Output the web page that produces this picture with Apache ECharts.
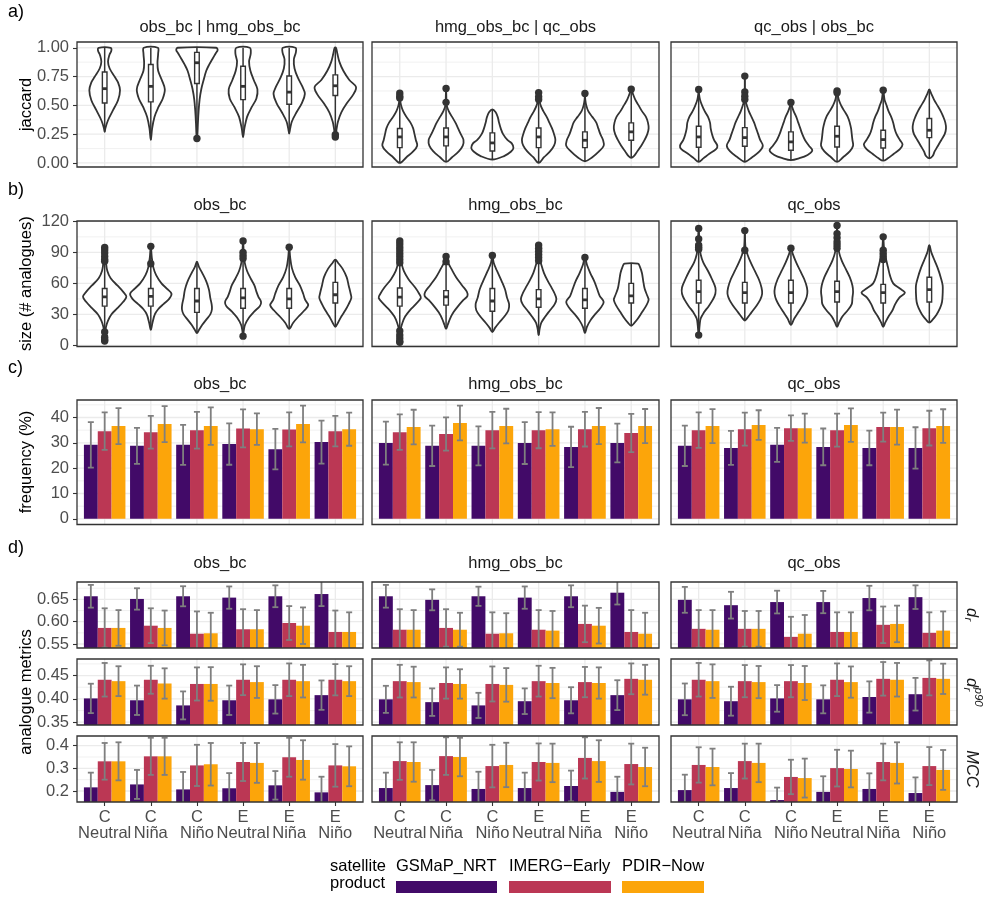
<!DOCTYPE html>
<html>
<head>
<meta charset="utf-8">
<script src="https://cdn.jsdelivr.net/npm/echarts@6/dist/echarts.min.js"></script>
<style>
  html, body { margin: 0; padding: 0; background: #ffffff; }
  #chart { width: 992px; height: 903px; }
</style>
</head>
<body>
<div id="chart"></div>
<script>
// ---------------------------------------------------------------------------
// Categories, products and facet names
// ---------------------------------------------------------------------------
const categories = ['C\nNeutral', 'C\nNiña', 'C\nNiño', 'E\nNeutral', 'E\nNiña', 'E\nNiño'];
const products = ['GSMaP_NRT', 'IMERG\u2212Early', 'PDIR\u2212Now'];
const productColors = ['#420A68', '#BB3754', '#FCA50A'];
const jaccardFacets = ['obs_bc | hmg_obs_bc', 'hmg_obs_bc | qc_obs', 'qc_obs | obs_bc'];
const datasetFacets = ['obs_bc', 'hmg_obs_bc', 'qc_obs'];

// ---------------------------------------------------------------------------
// a) jaccard: violin outlines as [value, density] pairs, boxes [q1, median, q3], outliers
// ---------------------------------------------------------------------------
const jaccProfile_obs_hmg = [
  [[0.27,0],[0.3,2],[0.371,10],[0.458,25],[0.545,40],[0.632,46],[0.7,40],[0.748,30],[0.82,15],[0.878,10],[0.936,14],[0.975,20],[1.0,18]],
  [[0.2,0],[0.3,4],[0.4,11],[0.48,22],[0.56,36],[0.64,42],[0.72,33],[0.8,22],[0.87,20],[0.95,22],[1.0,21]],
  [[0.21,0],[0.25,1.5],[0.35,3],[0.45,5],[0.55,8],[0.64,13],[0.72,20],[0.8,28],[0.85,36],[0.9,46],[0.95,56],[0.98,62],[1.0,58]],
  [[0.225,0],[0.3,4],[0.4,12],[0.48,25],[0.56,40],[0.64,43],[0.72,32],[0.8,22],[0.88,18],[0.95,23],[1.0,20]],
  [[0.255,0],[0.3,3],[0.36,8],[0.44,22],[0.52,38],[0.6,47],[0.66,40],[0.74,26],[0.82,16],[0.9,14],[0.96,20],[1.0,19]],
  [[0.22,0],[0.25,2],[0.3,4],[0.36,8],[0.44,18],[0.52,35],[0.6,55],[0.66,62],[0.72,42],[0.8,24],[0.88,12],[0.95,6],[1.0,2]]
];
const jaccBox_obs_hmg = [[0.52,0.645,0.79],[0.53,0.665,0.855],[0.69,0.87,0.96],[0.55,0.665,0.84],[0.51,0.615,0.755],[0.585,0.67,0.765]];
const jaccOut_obs_hmg = [[],[],[0.212],[],[],[0.245,0.225]];

const jaccProfile_hmg_qc = [
  [[0.0,0],[0.05,20],[0.1,40],[0.15,52],[0.2,48],[0.25,44],[0.3,40],[0.35,32],[0.4,20],[0.45,10],[0.5,4],[0.55,1],[0.605,0]],
  [[0.01,0],[0.05,18],[0.1,38],[0.15,50],[0.2,52],[0.25,44],[0.3,36],[0.35,28],[0.4,18],[0.45,8],[0.5,2],[0.55,1],[0.646,0]],
  [[0.03,0],[0.06,35],[0.1,56],[0.13,63],[0.17,58],[0.2,45],[0.25,32],[0.3,25],[0.35,20],[0.4,16],[0.44,10],[0.465,0]],
  [[0.0,0],[0.05,16],[0.1,34],[0.15,46],[0.2,50],[0.25,46],[0.3,40],[0.35,32],[0.4,24],[0.45,14],[0.5,6],[0.55,2],[0.609,0]],
  [[0.015,0],[0.05,22],[0.1,42],[0.15,56],[0.2,54],[0.25,46],[0.3,40],[0.35,34],[0.4,22],[0.45,10],[0.5,4],[0.55,1],[0.603,0]],
  [[0.045,0],[0.06,8],[0.1,18],[0.15,30],[0.2,40],[0.25,48],[0.3,52],[0.35,50],[0.4,44],[0.45,32],[0.5,22],[0.55,12],[0.6,5],[0.64,0]]
];
const jaccBox_hmg_qc = [[0.133,0.226,0.299],[0.148,0.226,0.304],[0.104,0.174,0.261],[0.133,0.226,0.304],[0.133,0.197,0.27],[0.197,0.27,0.348]];
const jaccOut_hmg_qc = [[0.605,0.58,0.565],[0.646,0.526],[],[0.609,0.574,0.55],[0.603],[0.64]];

const jaccProfile_qc_obs = [
  [[0.01,0],[0.04,14],[0.08,32],[0.12,52],[0.15,56],[0.2,46],[0.25,40],[0.3,36],[0.35,34],[0.4,28],[0.45,18],[0.5,10],[0.55,4],[0.6,1],[0.638,0]],
  [[0.01,0],[0.05,22],[0.1,44],[0.15,54],[0.2,46],[0.25,40],[0.3,34],[0.35,28],[0.4,20],[0.45,12],[0.5,6],[0.55,1],[0.754,0]],
  [[0.025,0],[0.04,24],[0.07,50],[0.11,64],[0.15,54],[0.2,42],[0.25,34],[0.3,28],[0.35,22],[0.4,16],[0.45,8],[0.5,2],[0.525,0]],
  [[0.01,0],[0.05,18],[0.1,38],[0.15,48],[0.2,46],[0.25,44],[0.3,42],[0.35,38],[0.4,32],[0.45,22],[0.5,12],[0.55,5],[0.626,0]],
  [[0.02,0],[0.04,14],[0.08,32],[0.12,50],[0.16,58],[0.2,50],[0.25,40],[0.3,34],[0.35,30],[0.4,24],[0.45,16],[0.5,10],[0.55,4],[0.632,0]],
  [[0.04,0],[0.06,10],[0.1,16],[0.15,26],[0.2,36],[0.25,46],[0.3,50],[0.35,48],[0.4,42],[0.45,34],[0.5,24],[0.55,14],[0.6,6],[0.638,0]]
];
const jaccBox_qc_obs = [[0.136,0.226,0.319],[0.145,0.22,0.307],[0.11,0.183,0.27],[0.139,0.232,0.319],[0.13,0.203,0.284],[0.22,0.284,0.386]];
const jaccOut_qc_obs = [[0.638],[0.754,0.617,0.58,0.55],[0.525],[0.626,0.609],[0.632],[]];

// ---------------------------------------------------------------------------
// b) size (# analogues)
// ---------------------------------------------------------------------------
const sizeProfile_obs_bc = [
  [[4,0],[12,2],[18,4],[24,10],[30,20],[36,38],[42,55],[47,65],[52,55],[58,38],[65,18],[72,8],[80,4],[90,2],[95,0]],
  [[15,0],[22,5],[30,12],[35,22],[40,38],[45,55],[50,62],[55,48],[60,32],[68,16],[75,8],[85,3],[96,0]],
  [[12,0],[15,6],[20,16],[25,28],[30,40],[35,45],[40,44],[46,40],[54,36],[62,28],[70,16],[76,6],[81,0]],
  [[9,0],[14,2],[20,6],[27,18],[33,34],[38,50],[42,54],[47,46],[52,40],[58,34],[64,24],[72,12],[80,5],[90,2],[101,0]],
  [[16,0],[22,12],[28,28],[34,46],[39,57],[44,48],[50,42],[58,32],[66,18],[75,8],[85,3],[95,0]],
  [[18,0],[22,8],[28,18],[34,30],[40,40],[46,48],[50,46],[58,40],[66,34],[74,22],[80,8],[83,0]]
];
const sizeBox_obs_bc = [[38,47,55],[38,47.5,55],[32,43,55],[36,46,55],[36,45,55],[41,49,61]];
const sizeOut_obs_bc = [[94.8,92.2,89.3,86,83,81.3,13,8,5.6,4.3],[95.8,79],[],[101,90,87,84,9],[95],[]];

const sizeProfile_hmg_obs_bc = [
  [[3,0],[16,3],[22,8],[28,16],[34,30],[40,48],[46,63],[50,58],[56,46],[64,26],[72,12],[80,5],[88,2],[101,0]],
  [[16,0],[20,5],[26,12],[32,22],[38,36],[44,52],[48,64],[52,62],[58,48],[66,30],[74,16],[80,6],[86,0]],
  [[13,0],[17,8],[22,20],[28,36],[34,48],[40,50],[46,44],[54,38],[62,28],[72,14],[80,4],[87,0]],
  [[10,0],[16,3],[22,8],[28,20],[34,34],[40,48],[45,53],[50,48],[55,40],[62,28],[70,16],[78,8],[85,3],[97,0]],
  [[12,0],[18,6],[24,16],[30,30],[36,46],[42,56],[48,44],[55,36],[62,28],[70,16],[78,6],[85,0]],
  [[19,0],[22,10],[26,20],[32,32],[38,44],[44,52],[48,48],[55,40],[62,36],[70,32],[76,26],[79,20]]
];
const sizeBox_hmg_obs_bc = [[38,46.7,55.6],[39,47,53],[33,43,55],[37,45,54],[36,44,55],[41,48,60]];
const sizeOut_hmg_obs_bc = [[101,98,95,92,89,86,83,80,14,10,7,4,3],[86,81],[87],[97,94,91,88,85,82],[85],[]];

const sizeProfile_qc_obs = [
  [[10,0],[20,3],[26,6],[32,16],[38,30],[44,42],[50,50],[56,50],[64,40],[72,28],[80,14],[88,6],[95,3],[113,0]],
  [[24,0],[26,6],[32,20],[38,34],[44,46],[50,52],[56,50],[64,42],[72,30],[80,18],[88,8],[95,2],[111,0]],
  [[20,0],[26,10],[32,22],[38,34],[44,44],[50,49],[56,48],[64,40],[72,28],[80,16],[88,6],[94,0]],
  [[18,0],[22,6],[28,16],[34,32],[40,44],[46,46],[52,48],[58,46],[66,38],[74,26],[82,14],[90,6],[100,2],[116,0]],
  [[18,0],[22,6],[28,16],[34,28],[40,36],[46,48],[51,65],[55,50],[60,30],[68,20],[76,14],[84,8],[92,3],[105,0]],
  [[22,0],[25,10],[30,22],[36,32],[42,38],[50,40],[58,40],[66,34],[74,26],[82,16],[90,6],[97,0]]
];
const sizeBox_qc_obs = [[41,52,63],[41,51,61],[41,51,63],[42,52,62],[41,51,59],[42,54,66]];
const sizeOut_qc_obs = [[113,103,97,95,93,10],[111,92],[94],[116,108,104,100,97,94],[105,92,89,86,83],[]];

// ---------------------------------------------------------------------------
// c) frequency (%): mean and sd, one row per product
// ---------------------------------------------------------------------------
const freqMean_obs_bc = [[29.2,28.8,29.2,29.5,27.5,30.3],[34.6,34.2,35.0,35.7,35.3,34.6],[36.6,37.4,36.6,35.4,37.4,35.4]];
const freqSd_obs_bc   = [[8.95,7.1,7.9,8.15,8.0,8.5],[7.4,6.45,7.25,7.5,6.7,6.0],[7.1,7.1,7.4,6.2,7.25,6.55]];
const freqMean_hmg_obs_bc = [[29.9,28.8,28.8,29.9,28.4,29.9],[34.2,33.5,35.0,35.0,35.4,33.9],[36.2,37.8,36.6,35.4,36.6,36.6]];
const freqSd_hmg_obs_bc   = [[8.5,7.95,7.7,8.25,7.95,7.65],[7.0,6.55,7.2,7.15,6.85,7.55],[6.85,6.85,6.85,6.6,7.15,6.75]];
const freqMean_qc_obs = [[28.8,28.0,29.2,28.4,28.0,28.0],[35.0,35.4,35.8,35.0,36.2,35.8],[36.6,37.0,35.8,37.0,36.2,36.6]];
const freqSd_qc_obs   = [[7.95,6.7,6.7,7.25,6.85,8.15],[7.0,6.5,5.0,6.5,5.75,6.85],[6.7,5.85,5.75,6.6,6.9,6.65]];

// ---------------------------------------------------------------------------
// d) analogue metrics: d_r, d_r^p90, MCC (mean and sd per product)
// ---------------------------------------------------------------------------
const drMean_obs_bc = [[0.657,0.651,0.657,0.654,0.657,0.662],[0.586,0.591,0.573,0.583,0.597,0.577],[0.586,0.586,0.574,0.583,0.591,0.577]];
const drSd_obs_bc   = [[0.0255,0.024,0.0225,0.025,0.0245,0.027],[0.044,0.039,0.050,0.045,0.038,0.048],[0.040,0.039,0.046,0.043,0.041,0.044]];
const drMean_hmg_obs_bc = [[0.657,0.649,0.657,0.654,0.657,0.665],[0.582,0.586,0.573,0.582,0.595,0.577],[0.582,0.582,0.574,0.580,0.591,0.573]];
const drSd_hmg_obs_bc   = [[0.0255,0.0235,0.0215,0.025,0.0245,0.0265],[0.046,0.042,0.048,0.044,0.041,0.049],[0.044,0.038,0.045,0.044,0.040,0.047]];
const drMean_qc_obs = [[0.649,0.637,0.644,0.644,0.653,0.655],[0.584,0.584,0.566,0.577,0.593,0.575],[0.582,0.584,0.573,0.577,0.595,0.580]];
const drSd_qc_obs   = [[0.029,0.030,0.0255,0.025,0.0275,0.0265],[0.042,0.040,0.045,0.044,0.041,0.046],[0.044,0.040,0.042,0.044,0.041,0.043]];

const dr90Mean_obs_bc = [[0.401,0.397,0.386,0.397,0.399,0.408],[0.441,0.441,0.432,0.441,0.441,0.441],[0.438,0.433,0.432,0.436,0.438,0.438]];
const dr90Sd_obs_bc   = [[0.0315,0.0315,0.030,0.0315,0.0305,0.0315],[0.036,0.030,0.0355,0.033,0.035,0.0335],[0.032,0.0325,0.036,0.034,0.035,0.032]];
const dr90Mean_hmg_obs_bc = [[0.399,0.393,0.386,0.395,0.397,0.408],[0.438,0.434,0.432,0.438,0.436,0.443],[0.436,0.432,0.430,0.434,0.434,0.441]];
const dr90Sd_hmg_obs_bc   = [[0.029,0.0295,0.027,0.0275,0.028,0.032],[0.035,0.0335,0.0375,0.033,0.0325,0.033],[0.033,0.0315,0.036,0.0325,0.0335,0.032]];
const dr90Mean_qc_obs = [[0.399,0.395,0.401,0.399,0.404,0.410],[0.441,0.438,0.438,0.441,0.443,0.445],[0.438,0.436,0.434,0.436,0.441,0.443]];
const dr90Sd_qc_obs   = [[0.034,0.031,0.0285,0.030,0.0335,0.035],[0.036,0.0345,0.0345,0.035,0.036,0.0375],[0.036,0.0345,0.0365,0.0335,0.036,0.0325]];

const mccMean_obs_bc = [[0.216,0.229,0.207,0.212,0.225,0.194],[0.331,0.353,0.313,0.328,0.349,0.313],[0.331,0.353,0.318,0.324,0.337,0.309]];
const mccSd_obs_bc   = [[0.065,0.064,0.077,0.067,0.063,0.069],[0.081,0.082,0.091,0.084,0.086,0.094],[0.084,0.082,0.094,0.088,0.087,0.088]];
const mccMean_hmg_obs_bc = [[0.213,0.226,0.209,0.213,0.222,0.196],[0.332,0.354,0.310,0.328,0.346,0.319],[0.328,0.350,0.315,0.324,0.332,0.306]];
const mccSd_hmg_obs_bc   = [[0.068,0.067,0.076,0.068,0.068,0.067],[0.083,0.083,0.094,0.082,0.091,0.090],[0.087,0.085,0.098,0.085,0.092,0.085]];
const mccMean_qc_obs = [[0.204,0.213,0.160,0.196,0.209,0.191],[0.315,0.332,0.262,0.301,0.328,0.310],[0.306,0.324,0.257,0.297,0.324,0.293]];
const mccSd_qc_obs   = [[0.068,0.066,0.055,0.069,0.069,0.069],[0.078,0.077,0.076,0.081,0.081,0.084],[0.081,0.085,0.086,0.081,0.091,0.088]];

// Tick values
const jaccTicks = [0, 0.25, 0.5, 0.75, 1.0];
const sizeTicks = [0, 30, 60, 90, 120];
const freqTicks = [0, 10, 20, 30, 40];
const drTicks = [0.55, 0.60, 0.65];
const dr90Ticks = [0.35, 0.40, 0.45];
const mccTicks = [0.2, 0.3, 0.4];

// ---------------------------------------------------------------------------
// Layout and styling
// ---------------------------------------------------------------------------
const FONT = '"Liberation Sans", Arial, Helvetica, sans-serif';
const FS = 16.5;
const X_MIN = 0.4, X_MAX = 6.6;          // discrete axis with 0.6 expansion each side
const DODGE = 0.3;                        // width of each bar inside a group
const CAP = 0.065;                        // half width of error bar caps
const BOX_HALF = 0.05;                    // half width of the boxplot
const DENSITY_TO_X = 1 / 138.3;           // violin half width per density unit
const GRID_COLOR = '#EBEBEB';
const INK = '#333333';

const columns = [{ left: 77, width: 286 }, { left: 372, width: 287 }, { left: 671, width: 286 }];

const rows = [
  { key: 'a', top: 42, height: 125, min: -0.035, max: 1.05, majors: jaccTicks, minors: [0.125,0.375,0.625,0.875], fmt: v => v.toFixed(2) },
  { key: 'b', top: 221, height: 125.5, min: -1, max: 120.3, majors: sizeTicks, minors: [15,45,75,105], fmt: v => String(v) },
  { key: 'c', top: 400, height: 124.5, min: -2.23, max: 46.9, majors: freqTicks, minors: [5,15,25,35,45], fmt: v => String(v) },
  { key: 'd1', top: 582, height: 66, min: 0.541, max: 0.689, majors: drTicks, minors: [0.575,0.625,0.675], fmt: v => v.toFixed(2) },
  { key: 'd2', top: 659, height: 66, min: 0.344, max: 0.4855, majors: dr90Ticks, minors: [0.375,0.425,0.475], fmt: v => v.toFixed(2) },
  { key: 'd3', top: 736, height: 66, min: 0.1514, max: 0.4428, majors: mccTicks, minors: [0.25,0.35], fmt: v => v.toFixed(1) }
];

const violinData = {
  a: [[jaccProfile_obs_hmg, jaccBox_obs_hmg, jaccOut_obs_hmg],
      [jaccProfile_hmg_qc, jaccBox_hmg_qc, jaccOut_hmg_qc],
      [jaccProfile_qc_obs, jaccBox_qc_obs, jaccOut_qc_obs]],
  b: [[sizeProfile_obs_bc, sizeBox_obs_bc, sizeOut_obs_bc],
      [sizeProfile_hmg_obs_bc, sizeBox_hmg_obs_bc, sizeOut_hmg_obs_bc],
      [sizeProfile_qc_obs, sizeBox_qc_obs, sizeOut_qc_obs]]
};
const barData = {
  c:  [[freqMean_obs_bc, freqSd_obs_bc], [freqMean_hmg_obs_bc, freqSd_hmg_obs_bc], [freqMean_qc_obs, freqSd_qc_obs]],
  d1: [[drMean_obs_bc, drSd_obs_bc], [drMean_hmg_obs_bc, drSd_hmg_obs_bc], [drMean_qc_obs, drSd_qc_obs]],
  d2: [[dr90Mean_obs_bc, dr90Sd_obs_bc], [dr90Mean_hmg_obs_bc, dr90Sd_hmg_obs_bc], [dr90Mean_qc_obs, dr90Sd_qc_obs]],
  d3: [[mccMean_obs_bc, mccSd_obs_bc], [mccMean_hmg_obs_bc, mccSd_hmg_obs_bc], [mccMean_qc_obs, mccSd_qc_obs]]
};

const grids = [], xAxes = [], yAxes = [], series = [], graphics = [];
const catPositions = categories.map((c, i) => i + 1);

function gridlineSeries(g, row) {
  const data = [];
  row.minors.forEach(v => data.push([X_MIN, v, 1]));
  row.majors.forEach(v => data.push([X_MIN, v, 0]));
  catPositions.forEach(x => data.push([x, row.min, 2]));
  return {
    type: 'custom', xAxisIndex: g, yAxisIndex: g, silent: true, z: 1, clip: true,
    encode: { x: 0, y: 1 }, data,
    renderItem(params, api) {
      const kind = api.value(2);
      let p1, p2;
      if (kind === 2) {
        p1 = api.coord([api.value(0), row.min]); p2 = api.coord([api.value(0), row.max]);
      } else {
        p1 = api.coord([X_MIN, api.value(1)]); p2 = api.coord([X_MAX, api.value(1)]);
      }
      return { type: 'line', shape: { x1: p1[0], y1: p1[1], x2: p2[0], y2: p2[1] },
               style: { stroke: GRID_COLOR, lineWidth: kind === 1 ? 0.7 : 1.3 } };
    }
  };
}

function violinSeries(g, profiles, boxes, outliers) {
  return {
    type: 'custom', xAxisIndex: g, yAxisIndex: g, silent: true, z: 3, clip: true,
    encode: { x: 0, y: 1 },
    data: boxes.map((b, i) => [i + 1, b[1]]),
    renderItem(params, api) {
      const i = params.dataIndex, x = api.value(0);
      const prof = profiles[i], box = boxes[i], outs = outliers[i];
      const pts = [];
      prof.forEach(([v, d]) => pts.push(api.coord([x + d * DENSITY_TO_X, v])));
      for (let k = prof.length - 1; k >= 0; k--) {
        const [v, d] = prof[k];
        if (d === 0 && (k === 0 || k === prof.length - 1)) continue;
        pts.push(api.coord([x - d * DENSITY_TO_X, v]));
      }
      const lo = Math.min(prof[0][0], ...outs);
      const hi = Math.max(prof[prof.length - 1][0], ...outs);
      const wTop = api.coord([x, hi]), wBot = api.coord([x, lo]);
      const bTL = api.coord([x - BOX_HALF, box[2]]), bBR = api.coord([x + BOX_HALF, box[0]]);
      const mL = api.coord([x - BOX_HALF, box[1]]), mR = api.coord([x + BOX_HALF, box[1]]);
      const children = [
        { type: 'polygon', shape: { points: pts, smooth: 0.35 }, style: { fill: '#ffffff', stroke: INK, lineWidth: 1.8 } },
        { type: 'line', shape: { x1: wTop[0], y1: wTop[1], x2: wBot[0], y2: wBot[1] }, style: { stroke: INK, lineWidth: 1.5 } },
        { type: 'rect', shape: { x: bTL[0], y: bTL[1], width: bBR[0] - bTL[0], height: bBR[1] - bTL[1] },
          style: { fill: '#ffffff', stroke: INK, lineWidth: 1.4 } },
        { type: 'line', shape: { x1: mL[0], y1: mL[1], x2: mR[0], y2: mR[1] }, style: { stroke: INK, lineWidth: 2.8 } }
      ];
      outs.forEach(v => {
        const c = api.coord([x, v]);
        children.push({ type: 'circle', shape: { cx: c[0], cy: c[1], r: 3.7 }, style: { fill: INK } });
      });
      return { type: 'group', children };
    }
  };
}

function barSeries(g, row, means, sds) {
  const data = [];
  means.forEach((vals, p) => vals.forEach((m, i) => data.push([i + 1, m, sds[p][i], p])));
  const base = Math.max(0, row.min);
  const bars = {
    type: 'custom', xAxisIndex: g, yAxisIndex: g, silent: true, z: 2, clip: true,
    encode: { x: 0, y: 1 }, data,
    renderItem(params, api) {
      const p = api.value(3), xc = api.value(0) + (p - 1) * DODGE;
      const tl = api.coord([xc - DODGE / 2, Math.min(api.value(1), row.max)]);
      const br = api.coord([xc + DODGE / 2, base]);
      return { type: 'rect', shape: { x: tl[0], y: tl[1], width: br[0] - tl[0], height: br[1] - tl[1] },
               style: { fill: productColors[p] } };
    }
  };
  const errs = {
    type: 'custom', xAxisIndex: g, yAxisIndex: g, silent: true, z: 4, clip: true,
    encode: { x: 0, y: 1 }, data,
    renderItem(params, api) {
      const p = api.value(3), xc = api.value(0) + (p - 1) * DODGE;
      const m = api.value(1), s = api.value(2);
      const loV = m - s, hiV = m + s;
      const top = api.coord([xc, Math.min(hiV, row.max)]);
      const bot = api.coord([xc, Math.max(loV, row.min)]);
      const st = { stroke: '#7F7F7F', lineWidth: 1.8 };
      const children = [{ type: 'line', shape: { x1: top[0], y1: top[1], x2: bot[0], y2: bot[1] }, style: st }];
      [[hiV, hiV <= row.max], [loV, loV >= row.min]].forEach(([v, ok]) => {
        if (!ok) return;
        const a = api.coord([xc - CAP, v]), b = api.coord([xc + CAP, v]);
        children.push({ type: 'line', shape: { x1: a[0], y1: a[1], x2: b[0], y2: b[1] }, style: st });
      });
      return { type: 'group', children };
    }
  };
  return [bars, errs];
}

// Build the 6 x 3 panel matrix
rows.forEach((row, r) => {
  columns.forEach((col, c) => {
    const g = grids.length;
    const isLeft = c === 0, isBottom = row.key === 'd3';
    grids.push({ left: col.left, top: row.top, width: col.width, height: row.height, containLabel: false });
    xAxes.push({
      gridIndex: g, type: 'value', min: X_MIN, max: X_MAX,
      axisLine: { show: false }, splitLine: { show: false },
      axisTick: { show: isBottom, customValues: catPositions, length: 4, lineStyle: { color: INK, width: 1.1 } },
      axisLabel: { show: isBottom, customValues: catPositions, formatter: v => categories[Math.round(v) - 1],
                   color: '#4D4D4D', fontSize: FS, fontFamily: FONT, lineHeight: 16, margin: 7 }
    });
    yAxes.push({
      gridIndex: g, type: 'value', min: row.min, max: row.max,
      axisLine: { show: false }, splitLine: { show: false },
      axisTick: { show: isLeft, customValues: row.majors, length: 4, lineStyle: { color: INK, width: 1.1 } },
      axisLabel: { show: isLeft, customValues: row.majors, formatter: row.fmt,
                   color: '#4D4D4D', fontSize: FS, fontFamily: FONT, margin: 8 }
    });
    series.push(gridlineSeries(g, row));
    if (violinData[row.key]) {
      const [prof, box, outs] = violinData[row.key][c];
      series.push(violinSeries(g, prof, box, outs));
    } else {
      const [means, sds] = barData[row.key][c];
      series.push(...barSeries(g, row, means, sds));
    }
    graphics.push({ type: 'rect', silent: true, z: 100,
      shape: { x: col.left, y: row.top, width: col.width, height: row.height },
      style: { fill: null, stroke: INK, lineWidth: 1.3 } });
  });
});

// Facet titles, panel tags and axis titles
function text(x, y, str, opt) {
  return Object.assign({ type: 'text', x, y, silent: true, z: 100,
    style: Object.assign({ text: str, fill: '#1A1A1A', font: FS + 'px ' + FONT, align: 'center', verticalAlign: 'middle' }, opt || {}) });
}
const stripY = { a: 27.5, b: 205.5, c: 384.5, d: 563.5 };
columns.forEach((col, c) => {
  const cx = col.left + col.width / 2;
  graphics.push(text(cx, stripY.a, jaccardFacets[c]));
  graphics.push(text(cx, stripY.b, datasetFacets[c]));
  graphics.push(text(cx, stripY.c, datasetFacets[c]));
  graphics.push(text(cx, stripY.d, datasetFacets[c]));
});
[['a)', 12], ['b)', 190], ['c)', 368.5], ['d)', 548.5]].forEach(([t, y]) => {
  graphics.push(text(8, y, t, { align: 'left', fill: '#000', font: '18px ' + FONT }));
});
function yTitle(str, cy) {
  const el = text(26, cy, str, { fill: '#000' });
  el.rotation = Math.PI / 2;
  return el;
}
graphics.push(yTitle('jaccard', 104.5));
graphics.push(yTitle('size (# analogues)', 283.7));
graphics.push(yTitle('frequency (%)', 462));
graphics.push(yTitle('analogue metrics', 692));

// Right-hand strip labels for the metric rows (rotated clockwise)
const ITALIC = 'italic ' + FS + 'px ' + FONT;
const SMALL_ITALIC = 'italic 11.5px ' + FONT;
graphics.push({ type: 'group', x: 972, y: 615, rotation: -Math.PI / 2, silent: true, z: 100, children: [
  { type: 'text', x: -7, y: 0, style: { text: 'd', font: ITALIC, fill: '#1A1A1A', align: 'left', verticalAlign: 'middle' } },
  { type: 'text', x: 2.5, y: 4, style: { text: 'r', font: SMALL_ITALIC, fill: '#1A1A1A', align: 'left', verticalAlign: 'middle' } }
]});
graphics.push({ type: 'group', x: 972, y: 692, rotation: -Math.PI / 2, silent: true, z: 100, children: [
  { type: 'text', x: -14, y: 0, style: { text: 'd', font: ITALIC, fill: '#1A1A1A', align: 'left', verticalAlign: 'middle' } },
  { type: 'text', x: -4.5, y: 4.5, style: { text: 'r', font: SMALL_ITALIC, fill: '#1A1A1A', align: 'left', verticalAlign: 'middle' } },
  { type: 'text', x: -4.5, y: -6, style: { text: 'p90', font: SMALL_ITALIC, fill: '#1A1A1A', align: 'left', verticalAlign: 'middle' } }
]});
(function () {
  const el = text(972, 769, 'MCC', { font: ITALIC });
  el.rotation = -Math.PI / 2;
  graphics.push(el);
})();

// Legend: title on the left, labels above their colour keys
graphics.push(text(330, 866, 'satellite', { align: 'left', fill: '#000' }));
graphics.push(text(330, 883, 'product', { align: 'left', fill: '#000' }));
const legendKeys = [[396, 101], [509, 102], [622, 82]];
products.forEach((name, p) => {
  const [lx, w] = legendKeys[p];
  graphics.push(text(lx, 866, name, { align: 'left', fill: '#000' }));
  graphics.push({ type: 'rect', silent: true, z: 100, shape: { x: lx, y: 881, width: w, height: 12 },
                  style: { fill: productColors[p] } });
});

const chart = echarts.init(document.getElementById('chart'), null, { renderer: 'canvas' });
chart.setOption({
  animation: false,
  backgroundColor: '#ffffff',
  textStyle: { fontFamily: FONT },
  grid: grids,
  xAxis: xAxes,
  yAxis: yAxes,
  series,
  graphic: { elements: graphics }
});
</script>
</body>
</html>
